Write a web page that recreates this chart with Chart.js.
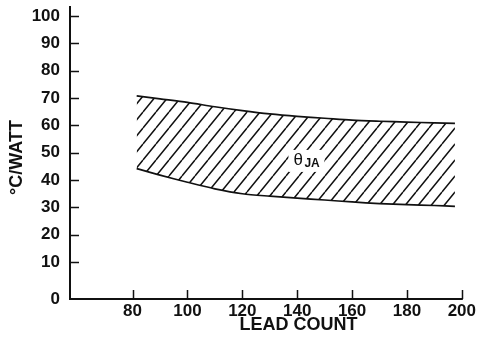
<!DOCTYPE html>
<html>
<head>
<meta charset="utf-8">
<script src="https://cdn.jsdelivr.net/npm/chart.js@4.4.1/dist/chart.umd.min.js"></script>
<style>
  html, body { margin: 0; padding: 0; background: #fff; }
  #wrap { width: 478px; height: 346px; position: relative; }
</style>
</head>
<body>
<div id="wrap"><canvas id="c"></canvas></div>
<script>
'use strict';

// values
const leadCounts = [81.5, 90, 100, 110, 120, 130, 140, 150, 160, 170, 180, 190, 197.5];
const upperWatt  = [70.8, 69.7, 68.4, 66.8, 65.4, 64.2, 63.3, 62.6, 61.9, 61.5, 61.2, 60.9, 60.7];
const lowerWatt  = [44.2, 41.8, 39.2, 36.8, 35.0, 34.1, 33.4, 32.7, 32.0, 31.4, 31.0, 30.7, 30.4];
const xTicks = [80, 100, 120, 140, 160, 180, 200];
const yTicks = [-3.5, 10, 20, 30, 40, 50, 60, 70, 80, 90, 100]; // -3.5 is shown as "0" (broken axis)
const xTitle = 'LEAD COUNT';

const INK = '#111';
const FONT = 'Liberation Sans, Arial, Helvetica, sans-serif';

// diagonal hatch for the band
function makeHatch() {
  const w = 13, h = 16;
  const c = document.createElement('canvas');
  c.width = w; c.height = h;
  const g = c.getContext('2d');
  g.strokeStyle = INK;
  g.lineWidth = 1.5;
  g.beginPath();
  for (let k = -1; k <= 1; k++) {
    g.moveTo(k * w, h);
    g.lineTo(k * w + w, 0);
  }
  g.stroke();
  return g.createPattern(c, 'repeat');
}

const toPts = function(ys) { return leadCounts.map(function(x, i) { return { x: x, y: ys[i] }; }); };

// axes, inward tick marks, x title (centred under the ticks) and the θJA label
const decor = {
  id: 'decor',
  afterDraw(chart) {
    const ctx = chart.ctx;
    const xs = chart.scales.x, ys = chart.scales.y;
    const a = chart.chartArea;
    ctx.save();
    ctx.strokeStyle = INK;
    ctx.lineWidth = 2;
    ctx.beginPath();
    ctx.moveTo(a.left, a.top - 10);
    ctx.lineTo(a.left, a.bottom);
    ctx.lineTo(xs.getPixelForValue(200) + 1, a.bottom);
    ctx.stroke();
    ctx.lineWidth = 1.5;
    ctx.beginPath();
    yTicks.forEach(function(v) {
      if (v < 0) return;
      const py = Math.round(ys.getPixelForValue(v)) + 0.5;
      ctx.moveTo(a.left, py);
      ctx.lineTo(a.left + 9, py);
    });
    xTicks.forEach(function(v) {
      const px = Math.round(xs.getPixelForValue(v)) + 0.5;
      ctx.moveTo(px, a.bottom);
      ctx.lineTo(px, a.bottom - 9);
    });
    ctx.stroke();

    ctx.fillStyle = INK;
    ctx.textBaseline = 'middle';
    ctx.textAlign = 'center';
    ctx.font = 'bold 18px ' + FONT;
    ctx.fillText(xTitle, xs.getPixelForValue(140.5), a.bottom + 26);

    // θJA label
    const lx = xs.getPixelForValue(139), ly = ys.getPixelForValue(47);
    ctx.fillStyle = '#fff';
    ctx.fillRect(lx - 6, ly - 11, 36, 22);
    ctx.fillStyle = INK;
    ctx.textAlign = 'left';
    ctx.font = '17px ' + FONT;
    ctx.fillText('θ', lx - 1, ly - 1);
    ctx.font = 'bold 12px ' + FONT;
    ctx.fillText('JA', lx + 10, ly + 3);
    ctx.restore();
  }
};

new Chart(document.getElementById('c'), {
  type: 'line',
  data: {
    datasets: [
      { data: toPts(upperWatt), borderColor: INK, borderWidth: 1.7, pointRadius: 0, tension: 0.3, fill: false },
      { data: toPts(lowerWatt), borderColor: INK, borderWidth: 1.7, pointRadius: 0, tension: 0.3, fill: '-1', backgroundColor: makeHatch() }
    ]
  },
  options: {
    responsive: true,
    maintainAspectRatio: false,
    animation: false,
    layout: { padding: { top: 16, right: 14, left: 0, bottom: 0 } },
    plugins: { legend: { display: false }, tooltip: { enabled: false } },
    scales: {
      x: {
        type: 'linear',
        min: 57.2,
        max: 200,
        afterBuildTicks: function(axis) { axis.ticks = xTicks.map(function(v) { return { value: v }; }); },
        afterFit: function(axis) { axis.height = 47; },
        grid: { display: false, drawTicks: false },
        border: { display: false },
        ticks: { color: INK, padding: 2, maxRotation: 0, font: { family: FONT, size: 17, weight: 'bold' } },
        title: { display: false }
      },
      y: {
        min: -3.5,
        max: 100,
        afterBuildTicks: function(axis) { axis.ticks = yTicks.map(function(v) { return { value: v }; }); },
        afterFit: function(axis) { axis.width = 70; axis.paddingTop = 0; },
        grid: { display: false, drawTicks: false },
        border: { display: false },
        ticks: { color: INK, padding: 10, font: { family: FONT, size: 17, weight: 'bold', lineHeight: 1 },
          callback: function(v) { return v < 0 ? '0' : v; } },
        title: { display: true, text: '°C/WATT', color: INK, padding: { top: 6, bottom: 0 }, font: { family: FONT, size: 18, weight: 'bold' } }
      }
    }
  },
  plugins: [decor]
});
</script>
</body>
</html>
